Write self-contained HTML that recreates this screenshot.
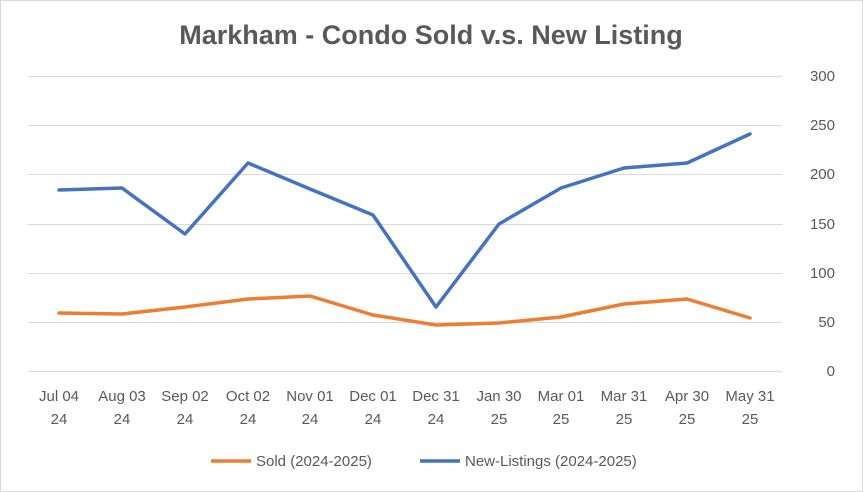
<!DOCTYPE html>
<html><head><meta charset="utf-8"><style>
body{margin:0;background:#fff;}
svg{display:block;font-family:"Liberation Sans",Arial,sans-serif;}
</style></head><body>
<svg width="863" height="492" viewBox="0 0 863 492">
<rect x="0.5" y="0.5" width="862" height="491" fill="#fff" stroke="#d9d9d9"/>
<text x="431" y="44" text-anchor="middle" font-size="27" font-weight="bold" fill="#595959">Markham - Condo Sold v.s. New Listing</text>
<g stroke="#d9d9d9" stroke-width="1">
<line x1="28" x2="782" y1="76.5" y2="76.5"/>
<line x1="28" x2="782" y1="125.5" y2="125.5"/>
<line x1="28" x2="782" y1="174.5" y2="174.5"/>
<line x1="28" x2="782" y1="224.5" y2="224.5"/>
<line x1="28" x2="782" y1="273.5" y2="273.5"/>
<line x1="28" x2="782" y1="322.5" y2="322.5"/>
<line x1="28" x2="782" y1="371.5" y2="371.5"/>
</g>
<g font-size="15" fill="#595959" text-anchor="end">
<text x="835" y="81">300</text><text x="835" y="130">250</text><text x="835" y="179">200</text>
<text x="835" y="229">150</text><text x="835" y="278">100</text><text x="835" y="327">50</text><text x="835" y="376">0</text>
</g>
<g font-size="15" fill="#595959" text-anchor="middle">
<text x="59" y="401">Jul 04</text><text x="59" y="424">24</text>
<text x="122" y="401">Aug 03</text><text x="122" y="424">24</text>
<text x="185" y="401">Sep 02</text><text x="185" y="424">24</text>
<text x="248" y="401">Oct 02</text><text x="248" y="424">24</text>
<text x="310" y="401">Nov 01</text><text x="310" y="424">24</text>
<text x="373" y="401">Dec 01</text><text x="373" y="424">24</text>
<text x="436" y="401">Dec 31</text><text x="436" y="424">24</text>
<text x="499" y="401">Jan 30</text><text x="499" y="424">25</text>
<text x="561" y="401">Mar 01</text><text x="561" y="424">25</text>
<text x="624" y="401">Mar 31</text><text x="624" y="424">25</text>
<text x="687" y="401">Apr 30</text><text x="687" y="424">25</text>
<text x="750" y="401">May 31</text><text x="750" y="424">25</text>
</g>
<polyline fill="none" stroke="#4472c4" stroke-width="3.5" stroke-linejoin="round" stroke-linecap="round"
points="59,190 122,188 185,234 248,163 310,189 373,215 436,307 499,224 561,188 624,168 687,163 750,134"/>
<polyline fill="none" stroke="#ed7d31" stroke-width="3.5" stroke-linejoin="round" stroke-linecap="round"
points="59,313 122,314 185,307 248,299 310,296 373,315 436,325 499,323 561,317 624,304 687,299 750,318"/>
<line x1="211" x2="251" y1="461" y2="461" stroke="#ed7d31" stroke-width="3.5"/>
<text x="256" y="466" font-size="15" fill="#595959">Sold (2024-2025)</text>
<line x1="420" x2="460" y1="461" y2="461" stroke="#4472c4" stroke-width="3.5"/>
<text x="465" y="466" font-size="15" fill="#595959">New-Listings (2024-2025)</text>
</svg>
</body></html>
